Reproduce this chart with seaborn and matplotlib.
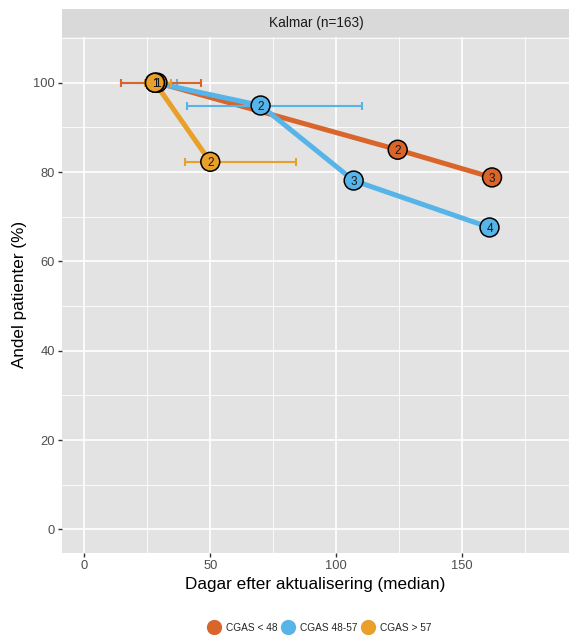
import numpy as np
import pandas as pd
import matplotlib
matplotlib.use("Agg")
import matplotlib.pyplot as plt
from matplotlib.lines import Line2D
from matplotlib.ticker import MultipleLocator
import seaborn as sns

# Data
groups = ["CGAS < 48", "CGAS 48-57", "CGAS > 57"]
colors = ["#D9652B", "#56B4E9", "#E8A02A"]

lt48_days = [29, 124.5, 162]
lt48_pct = [100, 85.0, 78.8]
lt48_lo = [14.4, np.nan, np.nan]
lt48_hi = [46.2, np.nan, np.nan]

mid_days = [28, 70, 107, 161]
mid_pct = [100, 94.9, 78.1, 67.6]
mid_lo = [14.6, 40.9, np.nan, np.nan]
mid_hi = [36.6, 110.3, np.nan, np.nan]

gt57_days = [28, 50]
gt57_pct = [100, 82.3]
gt57_lo = [24.0, 40.1]
gt57_hi = [34.3, 84.2]

frames = []
for g, d, p, lo, hi in [
    (groups[0], lt48_days, lt48_pct, lt48_lo, lt48_hi),
    (groups[1], mid_days, mid_pct, mid_lo, mid_hi),
    (groups[2], gt57_days, gt57_pct, gt57_lo, gt57_hi),
]:
    frames.append(pd.DataFrame({"grupp": g, "dagar": d, "andel": p,
                                "lo": lo, "hi": hi,
                                "nr": np.arange(1, len(d) + 1)}))
df = pd.concat(frames, ignore_index=True)
palette = dict(zip(groups, colors))

sns.set_theme(style="darkgrid")
plt.rcParams["font.family"] = ["Liberation Sans", "DejaVu Sans"]

fig = plt.figure(figsize=(5.69, 6.35), dpi=100)
ax = fig.add_axes([61.7 / 569, 1 - 552.7 / 635, 1 - 61.7 / 569, (552.7 - 36.7) / 635])
ax.set_facecolor("#E3E3E3")

# lines
sns.lineplot(data=df, x="dagar", y="andel", hue="grupp", palette=palette,
             sort=False, estimator=None, linewidth=3.6, legend=False, ax=ax,
             zorder=2)

# horizontal error bars (orange over blue, yellow on top)
for g in [groups[1], groups[0], groups[2]]:
    sub = df[(df["grupp"] == g) & df["lo"].notna()]
    ax.errorbar(sub["dagar"], sub["andel"],
                xerr=[sub["dagar"] - sub["lo"], sub["hi"] - sub["dagar"]],
                fmt="none", ecolor=palette[g], elinewidth=1.5, capsize=3.2,
                capthick=1.5, zorder=3)

# points
sns.scatterplot(data=df, x="dagar", y="andel", hue="grupp", palette=palette,
                s=185, edgecolor="black", linewidth=1.1, legend=False, ax=ax,
                zorder=4)
for _, r in df.iterrows():
    ax.text(r["dagar"], r["andel"], str(r["nr"]), ha="center",
            va="center_baseline", fontsize=8.5, color="#1A1A1A", zorder=5)

ax.set_xlim(-9.06, 192.6)
ax.set_ylim(-5.2, 110.3)
ax.xaxis.set_major_locator(MultipleLocator(50))
ax.xaxis.set_minor_locator(MultipleLocator(25))
ax.yaxis.set_major_locator(MultipleLocator(20))
ax.yaxis.set_minor_locator(MultipleLocator(10))
ax.grid(which="major", color="white", linewidth=1.2)
ax.grid(which="minor", color="white", linewidth=0.6)
for s in ax.spines.values():
    s.set_visible(False)
ax.tick_params(which="major", length=3, width=1, color="#333333",
               labelsize=9.3, labelcolor="#4D4D4D", pad=2,
               bottom=True, left=True)
ax.tick_params(which="minor", length=0)
ax.set_xlabel("Dagar efter aktualisering (median)", fontsize=12.3,
              color="black", labelpad=4)
ax.set_ylabel("Andel patienter (%)", fontsize=12.3, color="black", labelpad=4)

# facet strip
strip = fig.add_axes([61.7 / 569, 1 - 36.7 / 635, 1 - 61.7 / 569, (36.7 - 9.3) / 635])
strip.set_facecolor("#D9D9D9")
strip.set_xticks([])
strip.set_yticks([])
for s in strip.spines.values():
    s.set_visible(False)
strip.text((316 - 61.7) / (569 - 61.7), 0.5, "Kalmar (n=163)", ha="center",
           va="center", fontsize=9.8, color="#1A1A1A", transform=strip.transAxes)

# legend
handles = [Line2D([], [], marker="o", linestyle="", markersize=11,
                  markerfacecolor=c, markeredgecolor="none") for c in colors]
fig.legend(handles, groups, loc="center", bbox_to_anchor=(318.5 / 569, 1 - 628 / 635),
           ncol=3, frameon=False, fontsize=7.3,
           handlelength=1.6, handletextpad=0.4, columnspacing=0.2, borderpad=0)

fig.savefig("out.png", dpi=100)
